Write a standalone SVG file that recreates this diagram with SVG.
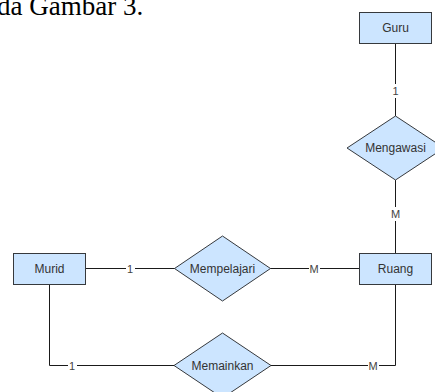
<svg xmlns="http://www.w3.org/2000/svg" width="435" height="392" viewBox="0 0 435 392">
<style>
.ent{fill:#cce5ff;stroke:#36393d;stroke-width:1}
.rel{fill:#cce5ff;stroke:#36393d;stroke-width:1}
.t{font-family:"Liberation Sans",Arial,sans-serif;font-size:12px;fill:#333333;text-anchor:middle;dominant-baseline:central}
.ln{fill:none;stroke:#1a1a1a;stroke-width:1}
.lb{font-family:"Liberation Sans",Arial,sans-serif;font-size:11px;fill:#444444;text-anchor:middle;dominant-baseline:central}
.lbg{fill:#ffffff}
.doc{font-family:"Liberation Serif","Times New Roman",serif;font-size:27px;fill:#000000}
</style>
<rect width="435" height="392" fill="#ffffff"/>
<text class="doc" x="-3" y="15">da Gambar 3.</text>
<g id="connectors">
<path class="ln" d="M395.5,43 V116"/>
<path class="ln" d="M395.5,180 V253"/>
<path class="ln" d="M85,268.5 H175"/>
<path class="ln" d="M270,268.5 H359"/>
<path class="ln" d="M49.5,284 V365.5 H174"/>
<path class="ln" d="M271,365.5 H395.5 V284"/>
<rect class="lbg" x="391" y="84" width="9" height="14"/>
<text class="lb" x="395.5" y="91">1</text>
<rect class="lbg" x="390" y="207" width="11" height="14"/>
<text class="lb" x="395.5" y="214">M</text>
<rect class="lbg" x="126" y="262" width="9" height="14"/>
<text class="lb" x="130" y="269">1</text>
<rect class="lbg" x="309" y="262" width="11" height="14"/>
<text class="lb" x="314" y="269">M</text>
<rect class="lbg" x="68" y="359" width="9" height="14"/>
<text class="lb" x="72" y="366">1</text>
<rect class="lbg" x="368" y="359" width="11" height="14"/>
<text class="lb" x="373" y="366">M</text>
</g>
<g id="guru">
<rect class="ent" x="359.5" y="12.5" width="72" height="31"/>
<text class="t" x="395.5" y="28">Guru</text>
</g>
<g id="mengawasi">
<polygon class="rel" points="395.5,116 444,148 395.5,180 347,148"/>
<text class="t" x="395.5" y="148">Mengawasi</text>
</g>
<g id="murid">
<rect class="ent" x="13.5" y="253.5" width="72" height="31"/>
<text class="t" x="49.5" y="269">Murid</text>
</g>
<g id="mempelajari">
<polygon class="rel" points="222.5,236 270.5,268.5 222.5,301 174.5,268.5"/>
<text class="t" x="222.5" y="269">Mempelajari</text>
</g>
<g id="ruang">
<rect class="ent" x="359.5" y="253.5" width="72" height="31"/>
<text class="t" x="395.5" y="269">Ruang</text>
</g>
<g id="memainkan">
<polygon class="rel" points="222.5,333 271,365.5 222.5,398 174,365.5"/>
<text class="t" x="222.5" y="366">Memainkan</text>
</g>
</svg>
